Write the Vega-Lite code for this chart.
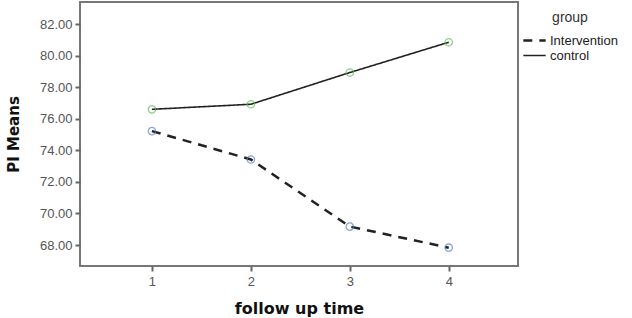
{
  "$schema": "https://vega.github.io/schema/vega-lite/v6.json",
  "autosize": "none",
  "width": 438,
  "height": 264,
  "padding": {"left": 80, "top": 2, "right": 114, "bottom": 52},
  "background": "white",
  "data": {"values": [
    {"time": 1, "group": "Intervention", "pi": 75.22},
    {"time": 2, "group": "Intervention", "pi": 73.42},
    {"time": 3, "group": "Intervention", "pi": 69.17},
    {"time": 4, "group": "Intervention", "pi": 67.83},
    {"time": 1, "group": "control", "pi": 76.60},
    {"time": 2, "group": "control", "pi": 76.92},
    {"time": 3, "group": "control", "pi": 78.93},
    {"time": 4, "group": "control", "pi": 80.85}
  ]},
  "config": {
    "view": {"stroke": "#777", "strokeWidth": 2},
    "font": "Liberation Sans",
    "axis": {"grid": false, "domain": false, "tickColor": "#666", "tickWidth": 2, "tickSize": 5,
             "labelColor": "#555", "labelFontSize": 13, "labelFont": "Liberation Sans",
             "titleColor": "#111", "titleFontSize": 15, "titleFontWeight": "bold", "titleFont": "DejaVu Sans"}
  },
  "encoding": {
    "x": {"field": "time", "type": "quantitative",
          "scale": {"domain": [0.273, 4.70], "nice": false, "zero": false},
          "axis": {"values": [1, 2, 3, 4], "format": "d", "title": "follow up time", "titlePadding": 12, "labelPadding": 4, "titleFontSize": 16}},
    "y": {"field": "pi", "type": "quantitative",
          "scale": {"domain": [66.67, 83.4], "nice": false, "zero": false},
          "axis": {"values": [68, 70, 72, 74, 76, 78, 80, 82], "format": ".2f", "title": "PI Means", "titlePadding": 18, "labelPadding": 3}}
  },
  "layer": [
    {
      "mark": {"type": "line", "color": "#222"},
      "encoding": {
        "strokeDash": {"field": "group", "type": "nominal",
          "scale": {"domain": ["Intervention", "control"], "range": [[9, 7], [1, 0]]},
          "legend": {"orient": "none", "legendX": 442, "legendY": 9, "title": "group",
                     "titleFontSize": 14, "titleFontWeight": "normal", "titleColor": "#333", "titleAnchor": "middle", "titlePadding": 8,
                     "labelFontSize": 13, "labelColor": "#222", "labelOffset": 3,
                     "symbolType": "stroke", "symbolSize": 500, "symbolStrokeWidth": 2, "symbolStrokeColor": "#222", "rowPadding": 0, "clipHeight": 15}},
        "strokeWidth": {"field": "group", "type": "nominal",
          "scale": {"domain": ["Intervention", "control"], "range": [2.5, 1.6]}, "legend": null}
      }
    },
    {
      "transform": [{"filter": "datum.group === 'Intervention'"}],
      "mark": {"type": "point", "filled": false, "size": 55, "strokeWidth": 1.3, "color": "#5b7fc7"}
    },
    {
      "transform": [{"filter": "datum.group === 'control'"}],
      "mark": {"type": "point", "filled": false, "size": 55, "strokeWidth": 1.3, "color": "#5cbf5c"}
    }
  ]
}
